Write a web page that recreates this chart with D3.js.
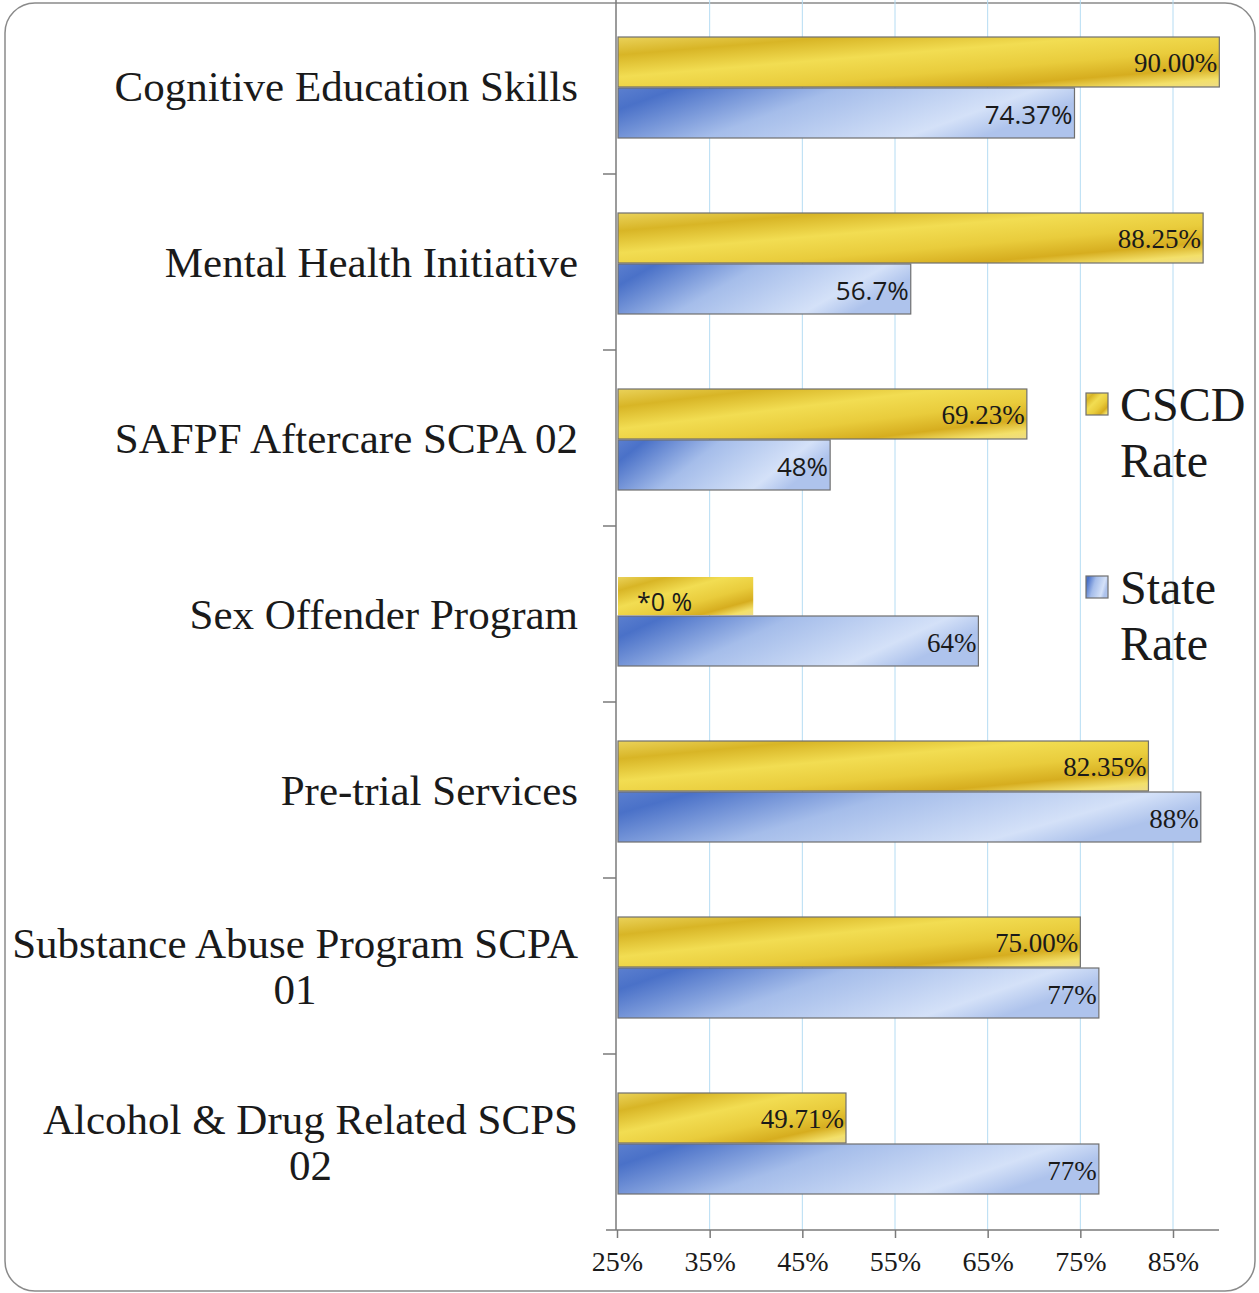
<!DOCTYPE html>
<html lang="en">
<head>
    <meta charset="UTF-8">
    <title>CSCD Rate vs State Rate</title>
    <script src="https://d3js.org/d3.v7.min.js"></script>
    <style>
        body {
            margin: 0;
            background: #fff;
        }
        svg text {
            fill: #1a1a1a;
        }
    </style>
</head>
<body>
    <div id="chart"></div>

    <script>
        // program names (top to bottom), labels with line breaks
        const programs = [
            ["Cognitive Education Skills"],
            ["Mental Health Initiative"],
            ["SAFPF Aftercare SCPA 02"],
            ["Sex Offender Program"],
            ["Pre-trial Services"],
            ["Substance Abuse Program SCPA", "01"],
            ["Alcohol & Drug Related SCPS", "02"]
        ];
        // CSCD bar lengths (sex offender bar is a placeholder drawn to ~40%)
        const cscdValues = [90.00, 88.25, 69.23, 39.7, 82.35, 75.00, 49.71];
        const cscdLabels = ["90.00%", "88.25%", "69.23%", "*0 %", "82.35%", "75.00%", "49.71%"];
        const stateValues = [74.37, 56.7, 48, 64, 88, 77, 77];
        const stateLabels = ["74.37%", "56.7%", "48%", "64%", "88%", "77%", "77%"];
        // labels printed in a sans face in the original
        const sansState = [true, true, true, false, false, false, false];
        const xTicks = [25, 35, 45, 55, 65, 75, 85];
        const seriesNames = [["CSCD", "Rate"], ["State", "Rate"]];

        const SERIF = "'Liberation Serif', 'Times New Roman', serif";
        const SANS = "'Open Sans', sans-serif";

        const width = 1259, height = 1293;
        const svg = d3.select("#chart").append("svg")
            .attr("width", width)
            .attr("height", height);

        const defs = svg.append("defs");
        const gold = defs.append("linearGradient").attr("id", "gold")
            .attr("x1", "0%").attr("y1", "0%").attr("x2", "100%").attr("y2", "100%");
        [[0, "#ead25a"], [0.18, "#d8b526"], [0.4, "#f2dd52"], [0.62, "#e9cc3c"],
         [0.8, "#d6ad1f"], [0.92, "#f3e06a"], [1, "#eedc86"]]
            .forEach(([o, c]) => gold.append("stop").attr("offset", o).attr("stop-color", c));
        const blue = defs.append("linearGradient").attr("id", "blue")
            .attr("x1", "0%").attr("y1", "0%").attr("x2", "100%").attr("y2", "30%");
        [[0, "#5b7fcf"], [0.12, "#4a71c8"], [0.45, "#a5bdea"], [0.85, "#d4e1f8"], [1, "#aec3ec"]]
            .forEach(([o, c]) => blue.append("stop").attr("offset", o).attr("stop-color", c));

        // outer rounded frame
        svg.append("rect")
            .attr("x", 5).attr("y", 3)
            .attr("width", 1250).attr("height", 1288)
            .attr("rx", 30)
            .attr("fill", "none")
            .attr("stroke", "#8a8a8a")
            .attr("stroke-width", 1.5);

        const x = d3.scaleLinear().domain([25, 85]).range([617, 1173]);
        const plotTop = -2, plotBottom = 1230;
        const y0 = d3.scaleBand()
            .domain(d3.range(programs.length))
            .range([plotTop, plotBottom]);
        const groupPad = 39;
        const barH = 50;

        // gridlines
        svg.append("g")
            .selectAll("line")
            .data(xTicks.slice(1))
            .join("line")
            .attr("x1", d => x(d)).attr("x2", d => x(d))
            .attr("y1", 0).attr("y2", plotBottom)
            .attr("stroke", "#b5dcf3")
            .attr("stroke-width", 1);

        // bars
        const groups = svg.append("g")
            .selectAll("g")
            .data(d3.range(programs.length))
            .join("g")
            .attr("transform", i => `translate(0,${y0(i) + groupPad})`);

        const isStar = i => cscdLabels[i].startsWith("*");

        groups.append("rect")
            .attr("x", x(25) + 1)
            .attr("y", i => isStar(i) ? 12 : 0)
            .attr("width", i => x(cscdValues[i]) - x(25) - 1)
            .attr("height", i => isStar(i) ? barH - 12 : barH)
            .attr("fill", "url(#gold)")
            .attr("stroke", i => isStar(i) ? "none" : "#6f6f6f")
            .attr("stroke-width", 1.2);

        groups.append("rect")
            .attr("x", x(25) + 1)
            .attr("y", barH + 1)
            .attr("width", i => x(stateValues[i]) - x(25) - 1)
            .attr("height", barH)
            .attr("fill", "url(#blue)")
            .attr("stroke", "#6f6f6f")
            .attr("stroke-width", 1.2);

        // value labels
        groups.append("text")
            .attr("x", i => isStar(i) ? x(25) + 20 : x(cscdValues[i]) - 2)
            .attr("y", i => isStar(i) ? 46 : 35)
            .attr("text-anchor", i => isStar(i) ? "start" : "end")
            .style("font-family", i => isStar(i) ? SANS : SERIF)
            .style("font-size", i => isStar(i) ? "25px" : "27px")
            .text(i => cscdLabels[i]);

        groups.append("text")
            .attr("x", i => x(stateValues[i]) - 2)
            .attr("y", barH + 37)
            .attr("text-anchor", "end")
            .style("font-family", i => sansState[i] ? SANS : SERIF)
            .style("font-size", i => sansState[i] ? "26px" : "27px")
            .text(i => stateLabels[i]);

        // category labels
        const labelRight = 578;
        groups.each(function (i) {
            const lines = programs[i];
            const g = d3.select(this);
            const lineH = 46;
            const center = (y0.bandwidth() / 2) - groupPad;
            const firstBase = center + 15 - (lines.length - 1) * lineH / 2;
            const t = g.append("text")
                .style("font-family", SERIF)
                .style("font-size", "43px")
                .attr("text-anchor", "middle");
            lines.forEach((ln, k) => t.append("tspan").attr("y", firstBase + k * lineH).text(ln));
            let maxW = 0;
            t.selectAll("tspan").each(function () { maxW = Math.max(maxW, this.getComputedTextLength()); });
            t.selectAll("tspan").attr("x", labelRight - maxW / 2);
        });

        // y axis line and category separators
        svg.append("line")
            .attr("x1", 616).attr("x2", 616)
            .attr("y1", 0).attr("y2", plotBottom)
            .attr("stroke", "#7a7a7a").attr("stroke-width", 1.5);
        svg.append("g")
            .selectAll("line")
            .data(d3.range(1, programs.length))
            .join("line")
            .attr("x1", 603).attr("x2", 616)
            .attr("y1", i => y0(i)).attr("y2", i => y0(i))
            .attr("stroke", "#7a7a7a").attr("stroke-width", 1.5);

        // x axis
        const xAxis = svg.append("g")
            .attr("transform", `translate(0,${plotBottom})`)
            .call(d3.axisBottom(x).tickValues(xTicks).tickFormat(d => d + "%").tickSize(8).tickPadding(13));
        xAxis.attr("font-family", SERIF);
        xAxis.select(".domain").remove();
        xAxis.append("line")
            .attr("x1", 606).attr("x2", 1219)
            .attr("stroke", "#7a7a7a").attr("stroke-width", 1.5);
        xAxis.selectAll(".tick line").attr("stroke", "#7a7a7a").attr("stroke-width", 1.5);
        xAxis.selectAll(".tick text")
            .style("font-family", SERIF)
            .style("font-size", "28px")
            .attr("fill", "#1a1a1a");

        // legend
        const legend = svg.append("g");
        const legendY = [393, 576];
        const fills = ["url(#gold)", "url(#blue)"];
        seriesNames.forEach((nm, k) => {
            legend.append("rect")
                .attr("x", 1086).attr("y", legendY[k])
                .attr("width", 22).attr("height", 22)
                .attr("fill", fills[k])
                .attr("stroke", "#6f6f6f").attr("stroke-width", 1.2);
            const t = legend.append("text")
                .style("font-family", SERIF)
                .style("font-size", "48px");
            nm.forEach((ln, j) => t.append("tspan")
                .attr("x", 1120)
                .attr("y", legendY[k] + 28 + j * 56)
                .text(ln));
        });
    </script>
</body>
</html>
